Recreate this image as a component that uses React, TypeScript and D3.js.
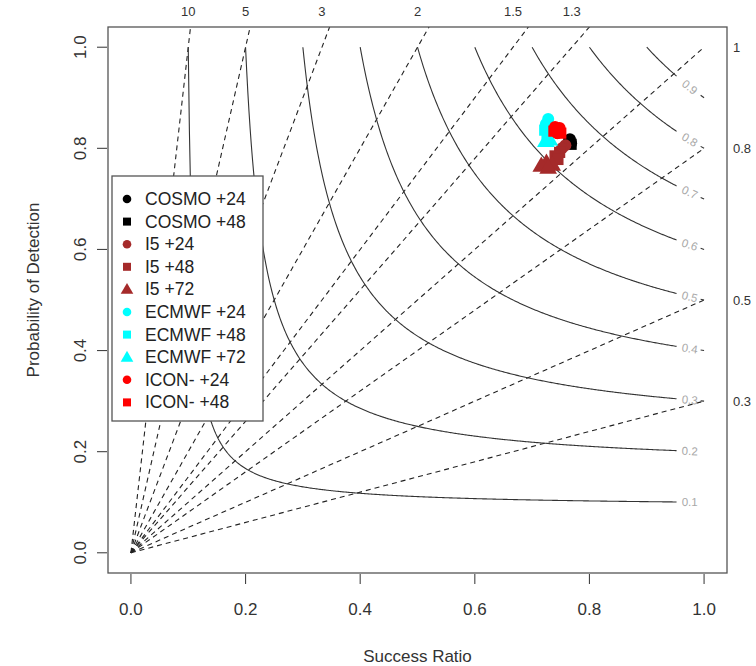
import React from "react";
import * as d3 from "d3";

// Axis ticks
const srTicks = [0, 0.2, 0.4, 0.6, 0.8, 1.0];
const podTicks = [0, 0.2, 0.4, 0.6, 0.8, 1.0];

// Frequency bias reference lines (labelled along the top and the right)
const biasTop = [10, 5, 3, 2, 1.5, 1.3];
const biasTopLabels = ["10", "5", "3", "2", "1.5", "1.3"];
const biasRight = [1, 0.8, 0.5, 0.3];
const biasRightLabels = ["1", "0.8", "0.5", "0.3"];

// Critical success index contours
const csiLevels = [0.1, 0.2, 0.3, 0.4, 0.5, 0.6, 0.7, 0.8, 0.9];

// Forecast scores: success ratio / probability of detection
const cosmo24SR = [0.766, 0.768];
const cosmo24POD = [0.818, 0.810];
const cosmo48SR = [0.768, 0.764];
const cosmo48POD = [0.808, 0.814];
const i5_24SR = [0.758, 0.752];
const i5_24POD = [0.806, 0.800];
const i5_48SR = [0.748, 0.740, 0.745];
const i5_48POD = [0.792, 0.785, 0.778];
const i5_72SR = [0.725, 0.716, 0.735, 0.728];
const i5_72POD = [0.772, 0.766, 0.768, 0.762];
const ecmwf24SR = [0.728, 0.724];
const ecmwf24POD = [0.858, 0.848];
const ecmwf48SR = [0.722, 0.726];
const ecmwf48POD = [0.836, 0.826];
const ecmwf72SR = [0.724, 0.730];
const ecmwf72POD = [0.815, 0.818];
const icon24SR = [0.740, 0.748, 0.744];
const icon24POD = [0.842, 0.840, 0.830];
const icon48SR = [0.738, 0.750];
const icon48POD = [0.834, 0.830];

const seriesNames = [
  "COSMO +24", "COSMO +48", "I5 +24", "I5 +48", "I5 +72",
  "ECMWF +24", "ECMWF +48", "ECMWF +72", "ICON- +24", "ICON- +48",
];
const seriesColors = [
  "#000000", "#000000", "#A52A2A", "#A52A2A", "#A52A2A",
  "#00FFFF", "#00FFFF", "#00FFFF", "#FF0000", "#FF0000",
];
const seriesShapes = [
  "circle", "square", "circle", "square", "triangle",
  "circle", "square", "triangle", "circle", "square",
];
const seriesSR = [cosmo24SR, cosmo48SR, i5_24SR, i5_48SR, i5_72SR, ecmwf24SR, ecmwf48SR, ecmwf72SR, icon24SR, icon48SR];
const seriesPOD = [cosmo24POD, cosmo48POD, i5_24POD, i5_48POD, i5_72POD, ecmwf24POD, ecmwf48POD, ecmwf72POD, icon24POD, icon48POD];

const W = 756;
const H = 666;
const box = { left: 108, right: 727, top: 27, bottom: 573 };
const FONT = "'Liberation Sans', Arial, Helvetica, sans-serif";

const x = d3.scaleLinear().domain([-0.04, 1.04]).range([box.left, box.right]);
const y = d3.scaleLinear().domain([-0.04, 1.04]).range([box.bottom, box.top]);

const csiPod = (c: number, sr: number) => 1 / (1 / c - 1 / sr + 1);

function Marker({ shape, cx, cy, color, k = 1 }: { shape: string; cx: number; cy: number; color: string; k?: number }) {
  if (shape === "circle") return <circle cx={cx} cy={cy} r={4.3 * k} fill={color} />;
  if (shape === "square") return <rect x={cx - 4 * k} y={cy - 4 * k} width={8 * k} height={8 * k} fill={color} />;
  const s = 5.6 * k;
  const tri = d3.symbol().type(d3.symbolTriangle).size(s * s * 2.2)();
  return <path d={tri || ""} transform={`translate(${cx},${cy + 0.8 * k})`} fill={color} />;
}

export default function App() {
  const line = d3.line<[number, number]>().x((d) => x(d[0])).y((d) => y(d[1]));
  const labelSR = 0.975;
  const gapLo = 0.952;
  const gapHi = 0.994;

  const contours = csiLevels.map((c) => {
    const a = d3.range(c, gapLo, 0.002).concat([gapLo]).map((s) => [s, csiPod(c, s)] as [number, number]);
    const b = [gapHi, 1].map((s) => [s, csiPod(c, s)] as [number, number]);
    const lp = csiPod(c, labelSR);
    const slope = -(lp * lp) / (labelSR * labelSR);
    const dxp = x(labelSR + 0.01) - x(labelSR);
    const dyp = y(lp + slope * 0.01) - y(lp);
    const ang = (Math.atan2(dyp, dxp) * 180) / Math.PI;
    return { c, a, b, lx: x(labelSR), ly: y(lp), ang };
  });

  const biases = [...biasTop, ...biasRight];

  const legend = { x: 112, y: 176, w: 151, h: 245, row: 22.6, first: 199 };

  return (
    <svg width={W} height={H} style={{ position: "absolute", left: 0, top: 0, background: "#fff" }} fontFamily={FONT}>
      <defs>
        <clipPath id="plotArea">
          <rect x={box.left} y={box.top} width={box.right - box.left} height={box.bottom - box.top} />
        </clipPath>
      </defs>
      <rect width={W} height={H} fill="#fff" />

      <g clipPath="url(#plotArea)">
        {/* bias lines */}
        {biases.map((b, i) => (
          <path key={"b" + i} d={line([[0, 0], [1, b]]) || ""} stroke="#222" strokeWidth={1.1} strokeDasharray="5,4" fill="none" />
        ))}
        {/* CSI contours */}
        {contours.map((k) => (
          <g key={"c" + k.c}>
            <path d={line(k.a) || ""} stroke="#333" strokeWidth={1.1} fill="none" />
            {k.c >= 0.3 && <path d={line(k.b) || ""} stroke="#333" strokeWidth={1.1} fill="none" />}
            <text
              x={k.lx}
              y={k.ly}
              transform={`rotate(${k.ang},${k.lx},${k.ly})`}
              fontSize={11.5}
              fill="#a8a8a8"
              textAnchor="middle"
              dominantBaseline="central"
            >
              {k.c.toFixed(1)}
            </text>
          </g>
        ))}
        {/* forecast points */}
        {seriesSR.map((srs, si) =>
          srs.map((sr, pi) => (
            <Marker key={`p${si}-${pi}`} shape={seriesShapes[si]} cx={x(sr)} cy={y(seriesPOD[si][pi])} color={seriesColors[si]} k={1.4} />
          ))
        )}
      </g>

      {/* plot frame */}
      <rect x={box.left} y={box.top} width={box.right - box.left} height={box.bottom - box.top} fill="none" stroke="#555" strokeWidth={1.3} />

      {/* bottom axis */}
      {srTicks.map((t) => (
        <g key={"x" + t}>
          <line x1={x(t)} x2={x(t)} y1={box.bottom + 1} y2={box.bottom + 11} stroke="#444" strokeWidth={1.1} />
          <text x={x(t)} y={615} fontSize={17} fill="#333" textAnchor="middle">{t.toFixed(1)}</text>
        </g>
      ))}
      {/* left axis */}
      {podTicks.map((t) => (
        <g key={"y" + t}>
          <line x1={box.left - 1} x2={box.left - 11} y1={y(t)} y2={y(t)} stroke="#444" strokeWidth={1.1} />
          <text transform={`translate(86,${y(t)}) rotate(-90)`} fontSize={17} fill="#333" textAnchor="middle">{t.toFixed(1)}</text>
        </g>
      ))}
      {/* bias labels */}
      {biasTop.map((b, i) => (
        <text key={"bt" + i} x={x(1 / b)} y={16} fontSize={13} fill="#333" textAnchor="middle">{biasTopLabels[i]}</text>
      ))}
      {biasRight.map((b, i) => (
        <text key={"br" + i} x={733} y={y(b) + 5} fontSize={13} fill="#333" textAnchor="start">{biasRightLabels[i]}</text>
      ))}

      {/* axis titles */}
      <text x={(box.left + box.right) / 2} y={662} fontSize={17} fill="#333" textAnchor="middle">Success Ratio</text>
      <text transform={`translate(39,290) rotate(-90)`} fontSize={17} fill="#333" textAnchor="middle">Probability of Detection</text>

      {/* legend */}
      <rect x={legend.x} y={legend.y} width={legend.w} height={legend.h} fill="#fff" stroke="#555" strokeWidth={1.3} />
      {seriesNames.map((n, i) => {
        const cy = legend.first + i * legend.row;
        return (
          <g key={"l" + i}>
            <Marker shape={seriesShapes[i]} cx={127} cy={cy} color={seriesColors[i]} />
            <text x={145} y={cy + 6} fontSize={17.5} fill="#222">{n}</text>
          </g>
        );
      })}
    </svg>
  );
}
